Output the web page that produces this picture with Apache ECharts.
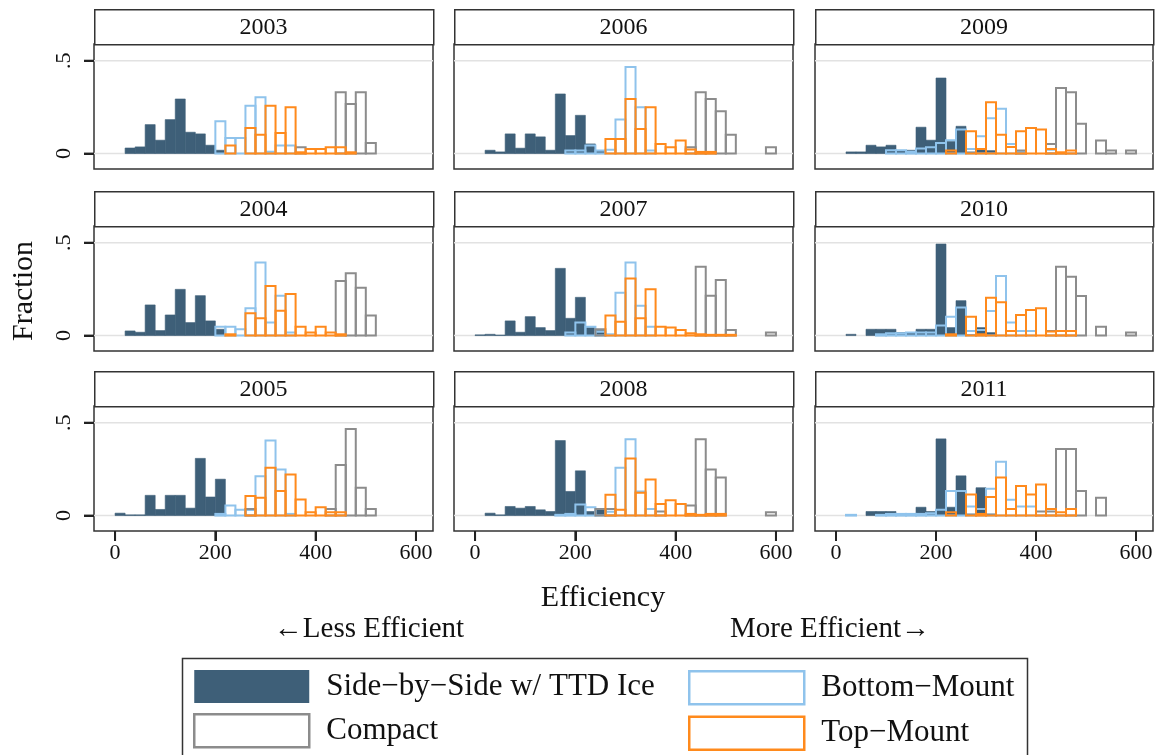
<!DOCTYPE html>
<html>
<head>
<meta charset="utf-8">
<script src="https://cdn.jsdelivr.net/npm/echarts@6/dist/echarts.min.js"></script>
<style>
html,body{margin:0;padding:0;background:#fff;}
#chart{width:1161px;height:755px;}
</style>
</head>
<body>
<div id="chart"></div>
<script>
// ---------------- DATA ----------------
const years = [2003, 2004, 2005, 2006, 2007, 2008, 2009, 2010, 2011];
const binWidth = 20;
const binStarts = [0,20,40,60,80,100,120,140,160,180,200,220,240,260,280,300,320,340,360,380,400,420,440,460,480,500,520,540,560,580];
const xTicks = [0, 200, 400, 600];
const yTicks = [0, 0.5];
const yTickLabels = ['0', '.5'];
const seriesNames = ['Side\u2212by\u2212Side w/ TTD Ice', 'Bottom\u2212Mount', 'Compact', 'Top\u2212Mount'];

// fraction per bin (bins of width 20 starting at binStarts), one row per year
const sideBySide = [
 [0,.030,.036,.156,.072,.183,.294,.115,.106,.045,.018,0,0,0,0,0,0,0,0,0,0,0,0,0,0,0,0,0,0,0],
 [0,.025,.018,.165,.027,.111,.249,.070,.215,.079,.034,0,0,0,0,0,0,0,0,0,0,0,0,0,0,0,0,0,0,0],
 [.013,.004,.004,.109,.033,.109,.109,.040,.308,.100,.196,0,0,0,0,0,0,0,0,0,0,0,0,0,0,0,0,0,0,0],
 [0,.018,.009,.106,.029,.106,.090,.018,.321,.097,.206,.052,.013,0,0,0,0,0,0,0,0,0,0,0,0,0,0,0,0,0],
 [.004,.007,.003,.079,.018,.102,.043,.027,.362,.093,.206,.043,.027,0,0,0,0,0,0,0,0,0,0,0,0,0,0,0,0,0],
 [0,.013,.004,.049,.040,.049,.031,.022,.404,.130,.241,.022,.031,0,0,0,0,0,0,0,0,0,0,0,0,0,0,0,0,0],
 [0,.009,.009,.045,.036,.045,.016,.018,.142,.072,.407,.066,.147,.009,.022,.016,0,0,0,0,0,0,0,0,0,0,0,0,0,0],
 [0,.007,0,.034,.034,.034,.016,.016,.034,.034,.493,.043,.188,.005,.043,.016,0,0,0,0,0,0,0,0,0,0,0,0,0,0],
 [0,0,0,.022,.022,.022,.009,.009,.045,.022,.413,.045,.214,.009,.150,.009,0,0,0,0,0,0,0,0,0,0,0,0,0,0]
];
const bottomMount = [
 [0,0,0,0,0,0,0,0,0,0,.174,.084,.084,.258,.303,.010,.043,.043,0,0,0,0,0,0,0,0,0,0,0,0],
 [0,0,0,0,0,0,0,0,0,0,.048,.048,.034,.147,.394,.070,.215,.016,0,0,0,0,0,0,0,0,0,0,0,0],
 [0,0,0,0,0,0,0,0,0,0,.009,.054,.031,.030,.212,.404,.248,.009,0,0,0,0,0,0,0,0,0,0,0,0],
 [0,0,0,0,0,0,0,0,0,.016,.016,.043,.016,.020,.183,.466,.249,.016,0,0,0,0,0,0,0,0,0,0,0,0],
 [0,0,0,0,0,0,0,0,0,.016,.070,.048,.020,.007,.231,.394,.161,.048,0,0,0,0,0,0,0,0,0,0,0,0],
 [0,0,0,0,0,0,0,0,.004,.009,.060,.045,.036,.020,.257,.411,.130,.036,0,0,0,0,0,0,0,0,0,0,0,0],
 [0,0,0,0,0,.018,.018,.010,.027,.034,.057,.072,.129,.025,.093,.190,.242,.052,.010,0,0,.020,0,0,0,0,0,0,0,0],
 [0,0,0,0,.007,.013,.013,.016,.016,.016,.054,.102,.151,.025,.030,.133,.321,.070,.025,.025,0,0,0,0,0,0,0,0,0,0],
 [0,.004,0,0,.004,.009,.009,.009,.009,.013,.031,.132,.132,.049,.036,.145,.290,.085,.049,.049,0,0,0,0,0,0,0,0,0,0]
];
const compact = [
 [0,0,0,0,0,0,0,0,0,0,0,0,0,0,0,0,0,0,.034,0,0,0,.330,.267,.330,.057,0,0,0,0],
 [0,0,0,0,0,0,0,0,0,0,0,0,0,0,0,0,0,0,0,0,0,0,.294,.335,.258,.108,0,0,0,0],
 [0,0,0,0,0,0,0,0,0,0,0,0,0,.036,0,0,0,0,0,0,0,.036,.272,.466,.150,.036,0,0,0,0],
 [0,0,0,0,0,0,0,0,0,0,0,0,0,0,0,0,0,0,0,0,0,.034,.330,.294,.228,.102,0,0,0,.034],
 [0,0,0,0,0,0,0,0,0,0,0,0,.034,0,0,0,0,0,0,0,0,0,.371,.215,.299,.030,0,0,0,.016],
 [0,0,0,0,0,0,0,0,0,0,0,0,.036,.036,0,0,0,0,.022,0,0,.054,.411,.248,.205,0,0,0,0,.018],
 [0,0,0,0,0,0,0,0,0,0,0,0,0,0,0,0,0,0,.016,0,0,.052,.353,.330,.161,0,.070,.016,0,.016],
 [0,0,0,0,0,0,0,0,0,0,0,0,0,0,0,0,0,0,0,0,0,.025,.371,.317,.213,0,.048,0,0,.016],
 [0,0,0,0,0,0,0,0,0,0,0,0,0,0,0,0,0,0,0,0,.022,.022,.359,.359,.132,0,.096,0,0,0]
];
const topMount = [
 [0,0,0,0,0,0,0,0,0,0,0,.043,0,.138,.102,.258,.111,.249,.007,.025,.025,.034,.034,.007,0,0,0,0,0,0],
 [0,0,0,0,0,0,0,0,0,0,0,.007,0,.120,.093,.267,.134,.224,.048,.016,.048,.016,.007,0,0,0,0,0,0,0],
 [0,0,0,0,0,0,0,0,0,0,0,0,0,.105,.096,.257,.132,.221,.087,.018,.045,.018,.018,0,0,0,0,0,0,0],
 [0,0,0,0,0,0,0,0,0,0,0,0,0,.079,.079,.294,.133,.249,.052,.034,.070,.022,.009,.009,0,0,0,0,0,0],
 [0,0,0,0,0,0,0,0,0,0,0,0,0,.108,.075,.308,.093,.249,.048,.043,.030,.013,.007,.004,.004,.004,0,0,0,0],
 [0,0,0,0,0,0,0,0,0,0,0,0,0,.112,.031,.308,.123,.194,.063,.082,.063,.009,.004,.009,.009,0,0,0,0,0],
 [0,0,0,0,0,0,0,0,0,0,0,.016,0,.120,.025,.276,.102,.036,.120,.138,.129,.025,.007,.016,0,0,0,0,0,0],
 [0,0,0,0,0,0,0,0,0,0,0,.007,0,.102,.007,.204,.179,.025,.111,.138,.147,.022,.025,.025,0,0,0,0,0,0],
 [0,0,0,0,0,0,0,0,0,0,0,.018,0,.114,.009,.100,.205,.036,.159,.114,.167,.036,.018,.036,0,0,0,0,0,0]
];

// ---------------- LAYOUT / STYLE ----------------
const FONT = "'Liberation Serif','Times New Roman',serif";
const colLeft = [94, 454, 815];
const colWidth = [339, 339, 338];
const rowTop = [44, 226, 406];
const plotHeight = 125;
const stripHeight = 35;
const tickLen = 10;
const xMin = -42, xMax = 634;
const yMin = -0.083, yMax = 0.59;
const frameColor = '#333';
const darkColor = '#3e5f78';
const blueColor = '#8fc3ec';
const greyColor = '#8c8c8c';
const orangeColor = '#ff8a1c';

const seriesStyles = [
  {fill: darkColor, stroke: darkColor, lineWidth: 0.6},
  {fill: 'none', stroke: blueColor, lineWidth: 2},
  {fill: 'none', stroke: greyColor, lineWidth: 2},
  {fill: 'none', stroke: orangeColor, lineWidth: 2}
];
const seriesTables = [sideBySide, bottomMount, compact, topMount];

function histData(row) {
  const out = [];
  row.forEach((v, i) => { if (v > 0) out.push([binStarts[i], v]); });
  return out;
}
function makeRender(style) {
  return function (params, api) {
    const x0 = api.value(0), v = api.value(1);
    const a = api.coord([x0, v]);
    const b = api.coord([x0 + binWidth, 0]);
    return {
      type: 'rect',
      shape: {x: a[0], y: a[1], width: b[0] - a[0], height: b[1] - a[1]},
      style: Object.assign({}, style)
    };
  };
}
function gridLineRender(params, api) {
  const cs = params.coordSys;
  const y = api.coord([0, api.value(1)])[1];
  return {
    type: 'line',
    shape: {x1: cs.x, y1: y, x2: cs.x + cs.width, y2: y},
    style: {stroke: '#e2e2e2', lineWidth: 1.5}
  };
}
// panel-local linear placement matching each grid's axis range (tick marks only)
function tickX(col, v) { return colLeft[col] + (v - xMin) / (xMax - xMin) * colWidth[col]; }
function tickY(row, v) { return rowTop[row] + (yMax - v) / (yMax - yMin) * plotHeight; }

const grids = [], xAxes = [], yAxes = [], series = [], graphics = [];

years.forEach((yr, k) => {
  const col = Math.floor(k / 3), row = k % 3;
  grids.push({
    left: colLeft[col], top: rowTop[row], width: colWidth[col], height: plotHeight,
    show: true, borderColor: frameColor, borderWidth: 1.5, backgroundColor: '#fff'
  });
  const bottomRow = row === 2, leftCol = col === 0;
  xAxes.push({
    type: 'value', gridIndex: k, min: xMin, max: xMax, position: 'bottom',
    axisLine: {show: false, onZero: false}, splitLine: {show: false},
    axisTick: {show: bottomRow, customValues: xTicks, length: tickLen, lineStyle: {color: '#222', width: 2}},
    axisLabel: {show: bottomRow, customValues: xTicks, margin: 11, fontSize: 22, fontFamily: FONT, color: '#111'}
  });
  yAxes.push({
    type: 'value', gridIndex: k, min: yMin, max: yMax, position: 'left',
    axisLine: {show: false, onZero: false}, splitLine: {show: false},
    axisTick: {show: leftCol, customValues: yTicks, length: tickLen, lineStyle: {color: '#222', width: 2}},
    axisLabel: {
      show: leftCol, customValues: yTicks, rotate: 90, margin: 19, fontSize: 22, fontFamily: FONT, color: '#111',
      formatter: v => yTickLabels[yTicks.indexOf(v)] ?? String(v)
    }
  });
  series.push({
    type: 'custom', name: 'gridlines', xAxisIndex: k, yAxisIndex: k, silent: true, z: 1,
    data: yTicks.map(v => [0, v]), encode: {x: 0, y: 1}, renderItem: gridLineRender
  });
  seriesTables.forEach((tbl, s) => {
    series.push({
      type: 'custom', name: seriesNames[s], xAxisIndex: k, yAxisIndex: k, silent: true, z: 2 + s,
      itemStyle: s === 0 ? {color: darkColor} : {color: '#fff', borderColor: seriesStyles[s].stroke, borderWidth: 2},
      data: histData(tbl[k]), encode: {x: 0, y: 1},
      renderItem: makeRender(seriesStyles[s])
    });
  });
  // strip header
  graphics.push({
    id: 'strip' + k, type: 'rect', left: colLeft[col], top: rowTop[row] - stripHeight,
    shape: {width: colWidth[col], height: stripHeight},
    style: {fill: '#fff', stroke: frameColor, lineWidth: 1.5}, silent: true, z: 10
  });
  graphics.push({
    id: 'year' + k, type: 'text', x: colLeft[col] + colWidth[col] / 2, y: rowTop[row] - stripHeight / 2 + 1,
    style: {text: String(yr), fontSize: 24, fontFamily: FONT, fill: '#111', textAlign: 'center', textVerticalAlign: 'middle'},
    silent: true, z: 11
  });
  // tick marks drawn as plain line shapes outside the frames
  if (bottomRow) {
    xTicks.forEach((v, i) => {
      const px = tickX(col, v), py = rowTop[row] + plotHeight;
      graphics.push({id: 'xt' + k + '_' + i, type: 'line', silent: true, z: 30,
        shape: {x1: px, y1: py, x2: px, y2: py + tickLen},
        style: {stroke: '#222', lineWidth: 2}});
    });
  }
  if (leftCol) {
    yTicks.forEach((v, i) => {
      const px = colLeft[col], py = tickY(row, v);
      graphics.push({id: 'yt' + k + '_' + i, type: 'line', silent: true, z: 30,
        shape: {x1: px - tickLen, y1: py, x2: px, y2: py},
        style: {stroke: '#222', lineWidth: 2}});
    });
  }
});

graphics.push(
  {id: 'ytitle', type: 'text', x: 24, y: 291, rotation: Math.PI / 2,
   style: {text: 'Fraction', fontSize: 30, fontFamily: FONT, fill: '#111', textAlign: 'center', textVerticalAlign: 'middle'}},
  {id: 'xtitle', type: 'text', x: 603, y: 598,
   style: {text: 'Efficiency', fontSize: 30, fontFamily: FONT, fill: '#111', textAlign: 'center', textVerticalAlign: 'middle'}},
  {id: 'less', type: 'text', x: 369, y: 629,
   style: {text: '\u2190Less Efficient', fontSize: 29, fontFamily: FONT, fill: '#111', textAlign: 'center', textVerticalAlign: 'middle'}},
  {id: 'more', type: 'text', x: 830, y: 629,
   style: {text: 'More Efficient\u2192', fontSize: 29, fontFamily: FONT, fill: '#111', textAlign: 'center', textVerticalAlign: 'middle'}},
  {id: 'legendbox', type: 'rect', left: 180, top: 656, shape: {width: 845, height: 120},
   style: {fill: 'none', stroke: frameColor, lineWidth: 1.5}, silent: true}
);

const legendText = {fontSize: 31, fontFamily: FONT, color: '#111', padding: [0, 0, 0, 12]};
const option = {
  animation: false,
  backgroundColor: '#fff',
  grid: grids,
  xAxis: xAxes,
  yAxis: yAxes,
  series: series,
  graphic: graphics,
  legend: [
    {left: 193, top: 670, orient: 'vertical', icon: 'rect', itemWidth: 115, itemHeight: 33, itemGap: 10,
     padding: 0, height: 85, selectedMode: false, textStyle: legendText,
     data: [
       {name: seriesNames[0], itemStyle: {color: darkColor, borderWidth: 0}},
       {name: seriesNames[2], itemStyle: {color: '#fff', borderColor: greyColor, borderWidth: 2.5}}
     ]},
    {left: 688, top: 670, orient: 'vertical', icon: 'rect', itemWidth: 115, itemHeight: 33, itemGap: 10,
     padding: 0, height: 85, selectedMode: false, textStyle: legendText,
     data: [
       {name: seriesNames[1], itemStyle: {color: '#fff', borderColor: blueColor, borderWidth: 2.5}},
       {name: seriesNames[3], itemStyle: {color: '#fff', borderColor: orangeColor, borderWidth: 2.5}}
     ]}
  ]
};
const chart = echarts.init(document.getElementById('chart'), null, {renderer: 'canvas'});
chart.setOption(option);
</script>
</body>
</html>
